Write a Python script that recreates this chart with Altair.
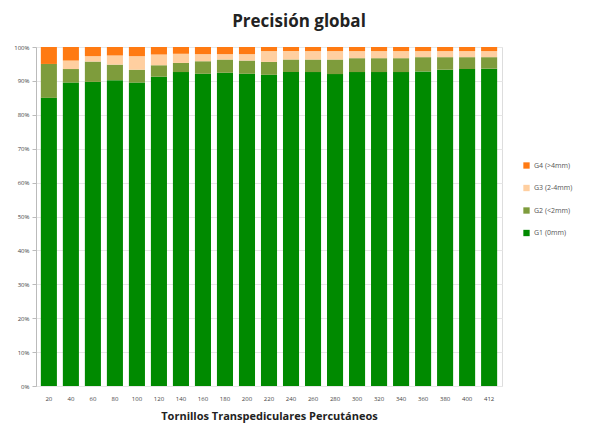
import altair as alt
import pandas as pd

cats = ["20", "40", "60", "80", "100", "120", "140", "160", "180", "200", "220",
        "240", "260", "280", "300", "320", "340", "360", "380", "400", "412"]
g1 = [85, 89.5, 89.7, 90.2, 89.5, 91.2, 92.6, 92.1, 92.4, 92.1, 91.8,
      92.6, 92.6, 92.0, 92.6, 92.6, 92.6, 92.8, 93.3, 93.5, 93.6]
g2 = [10, 4.0, 6.0, 4.6, 3.8, 3.4, 2.7, 3.7, 3.9, 3.9, 3.8,
      3.7, 3.7, 4.3, 4.1, 4.1, 4.1, 4.2, 3.7, 3.5, 3.4]
g3 = [0, 2.5, 1.6, 2.7, 4.0, 3.2, 2.7, 2.1, 1.6, 1.9, 3.2,
      2.5, 2.5, 2.5, 2.1, 2.1, 2.1, 1.8, 1.8, 1.8, 1.8]
g4 = [5, 4.0, 2.7, 2.5, 2.7, 2.2, 2.0, 2.1, 2.1, 2.1, 1.2,
      1.2, 1.2, 1.2, 1.2, 1.2, 1.2, 1.2, 1.2, 1.2, 1.2]

series = ["G1 (0mm)", "G2 (<2mm)", "G3 (2-4mm)", "G4 (>4mm)"]
legend_order = ["G4 (>4mm)", "G3 (2-4mm)", "G2 (<2mm)", "G1 (0mm)"]
colors = ["#FF7A12", "#FFCFA0", "#7E9C3C", "#008A00"]

rows = []
for i, c in enumerate(cats):
    for k, (name, vals) in enumerate(zip(series, [g1, g2, g3, g4])):
        rows.append({"cat": c, "serie": name, "value": vals[i], "ord": k})
df = pd.DataFrame(rows)

font = "Open Sans"

chart = alt.Chart(df).mark_bar().encode(
    x=alt.X("cat:N", sort=cats, title="Tornillos Transpediculares Percutáneos",
            scale=alt.Scale(paddingInner=0.27, paddingOuter=0.22),
            axis=alt.Axis(labelAngle=0, labelFontSize=6, labelColor="#444",
                          ticks=False, domain=False, labelPadding=9,
                          titleFontSize=11, titleFontWeight="bold",
                          titleFont=font, labelFont=font, titlePadding=9,
                          titleColor="#222")),
    y=alt.Y("value:Q", stack="normalize", title=None,
            scale=alt.Scale(domain=[0, 1]),
            axis=alt.Axis(format=".0%", values=[i / 10 for i in range(11)],
                          labelFontSize=6, labelColor="#444", labelFont=font,
                          grid=True, gridColor="#e6e6e6", tickColor="#bbb",
                          tickSize=4, domainColor="#bbb", labelPadding=3)),
    color=alt.Color("serie:N", scale=alt.Scale(domain=legend_order, range=colors),
                    legend=alt.Legend(title=None, orient="none", legendX=487, legendY=115,
                                      labelFontSize=7, labelColor="#555",
                                      labelFont=font, symbolType="square",
                                      symbolSize=40, rowPadding=14.5,
                                      symbolStrokeWidth=0)),
    order=alt.Order("ord:Q", sort="ascending"),
).properties(
    width=466, height=339,
    title=alt.Title("Precisión global", fontSize=17, font=font,
                    fontWeight="bold", color="#222", offset=13, dx=30),
).configure_view(stroke=None).configure(background="white")

chart.save("out.html", embed_options={"renderer": "svg", "actions": False})
